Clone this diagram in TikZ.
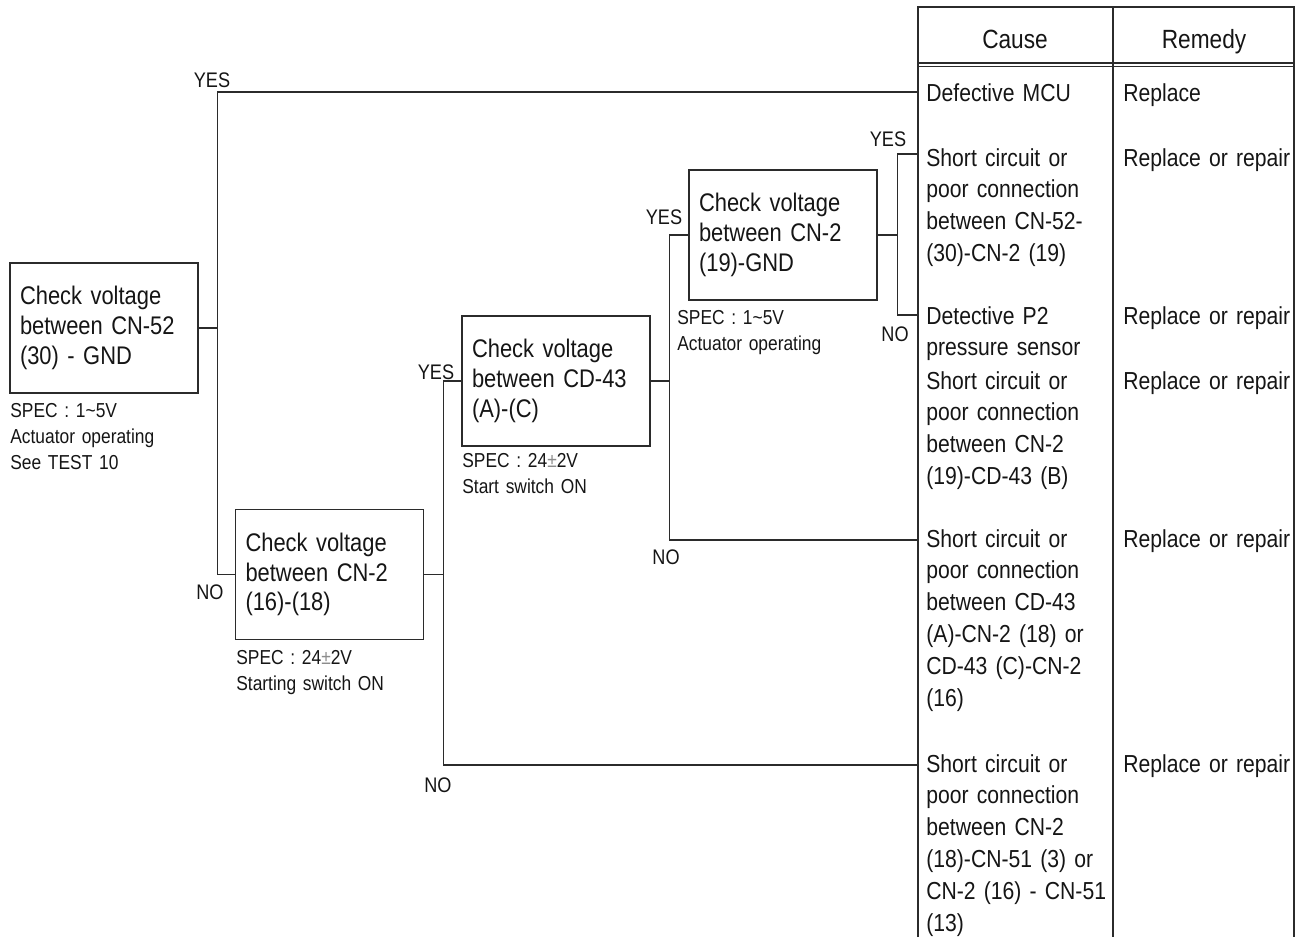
\documentclass[tikz,border=0pt]{standalone}
\usepackage{fontspec}
\setmainfont{Liberation Sans}[FakeStretch=0.86, WordSpace=0.8]
\usepackage{tikz}
\usetikzlibrary{calc, positioning}
\definecolor{fline}{HTML}{2B2B2B}
\definecolor{ftext}{HTML}{151515}
\tikzset{
  chkbox/.style={draw=fline, line width=1pt, minimum width=3.76cm, minimum height=2.6cm,
                 text width=3.36cm, align=left, inner xsep=0.2cm, text=ftext,
                 font=\fontsize{14.5}{17}\selectfont},
  spec/.style={anchor=base west, text width=4cm, align=left, inner sep=0pt, text=ftext,
               font=\fontsize{11.5}{14.8}\selectfont},
  yn/.style={inner sep=0pt, text=ftext, font=\fontsize{12}{14}\selectfont},
  cause/.style={anchor=base west, text width=3.6cm, align=left, inner xsep=0.16cm,
                inner ysep=0pt, text=ftext, font=\fontsize{14}{18.1}\selectfont},
  remedy/.style={cause, text width=3.5cm, inner xsep=0.2cm},
  head/.style={anchor=base, inner sep=0pt, text=ftext, font=\fontsize{15}{18}\selectfont},
  conn/.style={draw=fline, line width=0.7pt},
  tline/.style={draw=fline, line width=1.1pt},
}

\begin{document}
\begin{tikzpicture}[x=0.02cm, y=-0.02cm]
  \useasboundingbox (0,0) rectangle (1301,937);

  %% Cause / Remedy table
  \draw[tline] (918,937) -- (918,7) -- (1294,7) -- (1294,937);
  \draw[tline] (1113,7) -- (1113,937);
  \draw[conn] (918,63) -- (1294,63);
  \draw[conn] (918,66.5) -- (1294,66.5);
  \node[head] (hcause) at (1015,48) {Cause};
  \node[head] (hremedy) at (1204,48) {Remedy};

  \node[cause] (c1) at (918,101) {Defective MCU};
  \node[cause] (c2) at (918,166) {Short circuit or\\poor connection\\between CN-52-\\(30)-CN-2 (19)};
  \node[cause] (c3) at (918,324) {Detective P2\\pressure sensor};
  \node[cause] (c4) at (918,389) {Short circuit or\\poor connection\\between CN-2\\(19)-CD-43 (B)};
  \node[cause] (c5) at (918,547) {Short circuit or\\poor connection\\between CD-43\\(A)-CN-2 (18) or\\CD-43 (C)-CN-2\\(16)};
  \node[cause] (c6) at (918,772) {Short circuit or\\poor connection\\between CN-2\\(18)-CN-51 (3) or\\CN-2 (16) - CN-51\\(13)};

  \node[remedy] (r1) at (1113,101) {Replace};
  \node[remedy] (r2) at (1113,166) {Replace or repair};
  \node[remedy] (r3) at (1113,324) {Replace or repair};
  \node[remedy] (r4) at (1113,389) {Replace or repair};
  \node[remedy] (r5) at (1113,547) {Replace or repair};
  \node[remedy] (r6) at (1113,772) {Replace or repair};

  %% Check boxes
  \node[chkbox] (chk1) at (104,328) {Check voltage\\between CN-52\\(30) - GND};
  \node[chkbox] (chk4) at (329.5,574.5) {Check voltage\\between CN-2\\(16)-(18)};
  \node[chkbox] (chk2) at (556,381) {Check voltage\\between CD-43\\(A)-(C)};
  \node[chkbox] (chk3) at (783,235) {Check voltage\\between CN-2\\(19)-GND};

  %% Specs
  \node[spec] (s1) at (10,417) {SPEC : 1\textasciitilde5V\\Actuator operating\\See TEST 10};
  \node[spec] (s4) at (236,664) {SPEC : 24{\color{black!45}±}2V\\Starting switch ON};
  \node[spec] (s2) at (462,467) {SPEC : 24{\color{black!45}±}2V\\Start switch ON};
  \node[spec] (s3) at (677,324) {SPEC : 1\textasciitilde5V\\Actuator operating};

  %% Connectors
  \draw[conn] (chk1.east) -- ++(19,0) coordinate (j1);
  \draw[conn] (j1) |- ($(c1.base west)+(0,-9)$);
  \draw[conn] (j1) |- (chk4.west);
  \draw[conn] (chk4.east) -- ++(19,0) coordinate (j4);
  \draw[conn] (j4) |- (chk2.west);
  \draw[conn] (j4) |- ($(c6.base west)+(0,-7)$);
  \draw[conn] (chk2.east) -- ++(19,0) coordinate (j2);
  \draw[conn] (j2) |- (chk3.west);
  \draw[conn] (j2) |- ($(c5.base west)+(0,-7)$);
  \draw[conn] (chk3.east) -- ++(20,0) coordinate (j3);
  \draw[conn] (j3) |- ($(c2.base west)+(0,-12)$);
  \draw[conn] (j3) |- ($(c3.base west)+(0,-9)$);

  %% YES / NO
  \node[yn] (yes1) at (212,80) {YES};
  \node[yn] (no1) at (210,592) {NO};
  \node[yn] (yes4) at (436,372) {YES};
  \node[yn] (no4) at (438,785) {NO};
  \node[yn] (yes2) at (664,217) {YES};
  \node[yn] (no2) at (666,557) {NO};
  \node[yn] (yes3) at (888,139) {YES};
  \node[yn] (no3) at (895,334) {NO};
\end{tikzpicture}
\end{document}
